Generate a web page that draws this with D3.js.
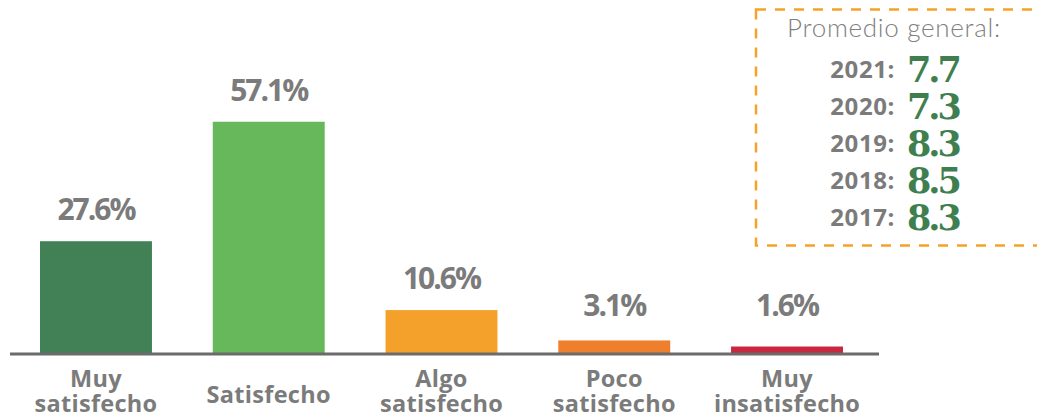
<!DOCTYPE html>
<html><head><meta charset="utf-8">
<script src="https://cdn.jsdelivr.net/npm/d3@7"></script>
<style>body{margin:0;background:#fff}svg{display:block}</style>
</head><body>
<svg id="c" width="1037" height="416"></svg>
<script>
const categories = [["Muy","satisfecho"],["Satisfecho"],["Algo","satisfecho"],["Poco","satisfecho"],["Muy","insatisfecho"]];
const values = [27.6, 57.1, 10.6, 3.1, 1.6];
const barColors = ["#428155","#66b85a","#f4a12c","#ee7f2d","#c8283f"];
const years = ["2021:","2020:","2019:","2018:","2017:"];
const averages = ["7.7","7.3","8.3","8.5","8.3"];
const boxTitle = "Promedio general:";

const svg = d3.select("#c");
const gray = "#7b7b7b";
const base = 353;
const x = d3.scaleBand().domain(d3.range(values.length)).range([9.6, 873.4]).paddingInner(0.352).paddingOuter(0.176);
const y = d3.scaleLinear().domain([0, 60]).range([base, base - 60*4.05]);

svg.selectAll("rect.bar").data(values).join("rect").attr("class","bar")
  .attr("x",(d,i)=>x(i)).attr("width",x.bandwidth())
  .attr("y",d=>y(d)).attr("height",d=>base - y(d))
  .attr("fill",(d,i)=>barColors[i]);

svg.append("line").attr("x1",10).attr("x2",879).attr("y1",354).attr("y2",354)
  .attr("stroke","#6b6b6b").attr("stroke-width",3);

svg.selectAll("text.val").data(values).join("text").attr("class","val")
  .attr("x",(d,i)=>x(i)+x.bandwidth()/2)
  .attr("y",d=>Math.min(y(d)-21, 316))
  .attr("text-anchor","middle")
  .attr("font-family","'Open Sans', sans-serif").attr("font-weight",700)
  .attr("font-size",30).attr("letter-spacing",-2).attr("fill",gray)
  .text(d=>d.toFixed(1)+"%");

const cat = svg.selectAll("text.cat").data(categories).join("text").attr("class","cat")
  .attr("text-anchor","middle")
  .attr("font-family","'Open Sans', sans-serif").attr("font-weight",700)
  .attr("font-size",23.5).attr("letter-spacing",0.3).attr("fill",gray);
cat.each(function(d,i){
  const t = d3.select(this);
  const cx = x(i)+x.bandwidth()/2;
  if (d.length === 1) {
    t.append("tspan").attr("x",cx).attr("y",403).text(d[0]);
  } else {
    d.forEach((s,j)=>t.append("tspan").attr("x",cx).attr("y",387+j*25).text(s));
  }
});

// Promedio box (right side runs past the edge)
svg.append("rect").attr("x",756).attr("y",9.5).attr("width",320).attr("height",236)
  .attr("fill","none").attr("stroke","#f5a229").attr("stroke-width",2.5)
  .attr("stroke-dasharray","10,9");
svg.append("text").attr("x",894).attr("y",37).attr("text-anchor","middle")
  .attr("font-family","Lato, sans-serif").attr("font-weight",300)
  .attr("font-size",26).attr("letter-spacing",0.7).attr("fill","#808080").text(boxTitle);
svg.selectAll("text.yr").data(years).join("text").attr("class","yr")
  .attr("x",895).attr("y",(d,i)=>78+i*37).attr("text-anchor","end")
  .attr("font-family","'Open Sans', sans-serif").attr("font-weight",700)
  .attr("font-size",24).attr("letter-spacing",0.6).attr("fill",gray).text(d=>d);
svg.selectAll("text.avg").data(averages).join("text").attr("class","avg")
  .attr("x",907).attr("y",(d,i)=>82+i*37)
  .attr("font-family","'DejaVu Serif', serif").attr("font-weight",700)
  .attr("font-size",35).attr("letter-spacing",-3).attr("fill","#3f7f4f").text(d=>d);
</script>
</body></html>
